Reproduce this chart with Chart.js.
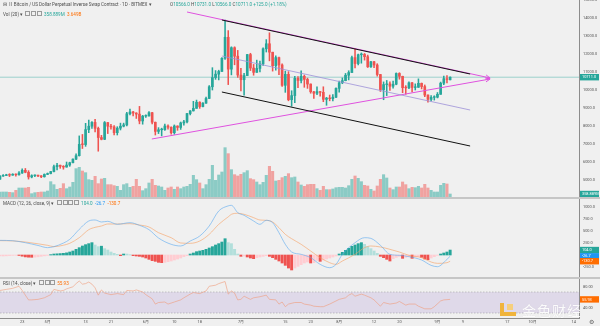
<!DOCTYPE html>
<html>
<head>
<meta charset="utf-8">
<script src="https://cdn.jsdelivr.net/npm/chart.js@4.4.1/dist/chart.umd.min.js"></script>
<style>
  body { margin: 0; background: #f0f0f0; }
  #wrap { position: relative; width: 600px; height: 326px; overflow: hidden; background: #f0f0f0;
          font-family: Roboto, "Noto Sans", "Noto Sans CJK SC", sans-serif; }
  canvas { position: absolute; left: 0; }
  .leg { position: absolute; font-size: 4.6px; line-height: 6px; color: #4d4d4d; white-space: nowrap; }
  .ic { display: inline-block; width: 3px; height: 3px; border: 0.5px solid #9a9a9a; margin-right: 0.8px; vertical-align: -0.5px; }
  .sep { position: absolute; left: 0; width: 600px; background: #c6c6c6; }
  .wm { position: absolute; left: 522px; top: 300px; font-size: 14px; letter-spacing: 1px; color: rgba(255,255,255,0.92);
        font-family: "Noto Sans CJK SC", sans-serif; text-shadow: 0 0 1px rgba(0,0,0,0.12); }
</style>
</head>
<body>
<div id="wrap">
  <canvas id="price" width="600" height="197" style="top:0"></canvas>
  <canvas id="macd" width="600" height="78" style="top:199px"></canvas>
  <canvas id="rsi" width="600" height="47" style="top:279px"></canvas>
  <div class="sep" style="top:197px;height:1.5px"></div>
  <div class="sep" style="top:277px;height:1.5px"></div>

  <div class="leg" style="left:3px;top:1.5px">⊟ Ⅱ Bitcoin / US Dollar Perpetual Inverse Swap Contract · 1D · BITMEX ▾</div>
  <div class="leg" id="ohlc" style="left:170px;top:1.5px"></div>
  <div class="leg" id="volLeg" style="left:3px;top:10.5px"></div>
  <div class="leg" id="macdLeg" style="left:3px;top:200px"></div>
  <div class="leg" id="rsiLeg" style="left:3px;top:280px"></div>

  <div style="position:absolute;left:500px;top:303px;width:4px;height:13px;background:#f0b43c"></div>
  <div style="position:absolute;left:500px;top:312px;width:16px;height:4px;background:#f0b43c"></div>
  <div style="position:absolute;left:507px;top:304px;width:6px;height:6px;background:#f6cf7c"></div>
  <div class="wm">金色财经</div>
  <div class="leg" style="left:589px;top:318.5px;font-size:5.5px;color:#666">⚙</div>
</div>
<script>
// daily candles, day 0 = 2019-04-16, last = 2019-09-05
const opens = [
  5040, 5220, 5250, 5290, 5270, 5320, 5290, 5390, 5540, 5430, 5170, 5240, 5250, 5230, 5180,
  5310, 5360, 5470, 5740, 5820, 5760, 5720, 5830, 5960, 6160, 6350, 6980, 6970, 7800, 7990, 8200,
  7870, 7360, 7260, 8190, 7990, 7950, 7630, 7880, 7990, 8060, 8680, 8780, 8720, 8660, 8280,
  8550, 8560, 8740, 8210, 7700, 7790, 7800, 8000, 7930, 7630, 8000, 7920, 8170, 8230, 8690,
  8840, 8980, 9320, 9080, 9270, 9530, 10180, 10690, 10880, 11030, 11760, 12930, 11160, 12350, 11880,
  10830, 10570, 10800, 11970, 11220, 10980, 11200, 11450, 12290, 12570, 12100, 11350, 11800, 11390, 10260,
  10870, 9460, 9690, 10650, 10530, 10760, 10590, 10330, 9900, 9820, 9910, 9870, 9480, 9550, 9520, 9600,
  10090, 10400, 10520, 10820, 10970, 11800, 11470, 11960, 11980, 11850, 11290, 11570, 11390, 10860, 10020,
  10300, 10340, 10210, 10320, 10920, 10760, 10130, 10120, 10400, 10140, 10150, 10370, 10190, 9720, 9480, 9590,
  9600, 9760, 10380, 10630, 10566
];
const highs = [
  5250, 5300, 5320, 5350, 5350, 5340, 5470, 5620, 5640, 5520, 5290, 5290, 5270, 5250, 5340,
  5390, 5480, 5830, 5920, 5830, 5800, 6000, 5990, 6180, 6450, 7450, 7530, 8150, 8330, 8250, 8370,
  7940, 7480, 8250, 8200, 8100, 8030, 7960, 8160, 8160, 8760, 8940, 8810, 8740, 9090, 8590,
  8620, 8800, 8760, 8220, 7910, 7880, 8110, 8060, 7950, 8060, 8010, 8220, 8320, 8700, 8860,
  9370, 9440, 9350, 9300, 9600, 10240, 11240, 11080, 11100, 11800, 13880, 13300, 12400, 12400, 12200,
  11200, 10930, 11980, 12040, 11420, 11660, 11600, 12340, 12800, 13180, 12100, 11900, 11830, 11450, 11050,
  11020, 9960, 10760, 10750, 11070, 10830, 10660, 10340, 9920, 10170, 9930, 10180, 9590, 9720, 9750, 10120,
  10490, 10670, 10920, 11070, 11890, 12300, 12000, 12060, 12030, 11940, 11590, 11590, 11460, 10870, 10450,
  10530, 10460, 10500, 10950, 10960, 10770, 10240, 10460, 10430, 10340, 10620, 10390, 10280, 9730, 9690, 9680,
  9860, 10440, 10780, 10800, 10731
];
const lows = [
  5030, 5200, 5240, 5190, 5260, 5220, 5270, 5370, 5400, 5050, 5120, 5190, 5180, 5130, 5160,
  5300, 5340, 5450, 5560, 5650, 5600, 5710, 5760, 5950, 6130, 6330, 6750, 6870, 7630, 7860, 7670,
  6600, 7230, 7240, 7580, 7820, 7500, 7500, 7780, 7950, 8000, 8620, 8560, 8420, 8120, 8100,
  8480, 8540, 8120, 7500, 7580, 7450, 7750, 7820, 7550, 7540, 7760, 7810, 8050, 8170, 8610,
  8830, 8980, 8980, 9060, 9250, 9520, 10000, 10590, 10560, 11030, 11700, 10300, 10840, 11400, 10700,
  9950, 9710, 10800, 11080, 10820, 10980, 11000, 11360, 12110, 11620, 11050, 11100, 10850, 10200, 9870,
  9400, 9100, 9300, 10130, 10400, 10150, 10090, 9820, 9530, 9740, 9660, 9350, 9150, 9400, 9400, 9580,
  9880, 10350, 10510, 10560, 10970, 11220, 11400, 11490, 11660, 11250, 11250, 11240, 10770, 9920, 9460,
  9690, 9980, 10100, 10290, 10600, 9850, 9760, 10070, 9900, 10000, 10140, 10060, 9630, 9330, 9400, 9440,
  9560, 9760, 10300, 10400, 10566
];
const closes = [
  5220, 5250, 5290, 5270, 5320, 5290, 5390, 5540, 5430, 5170, 5240, 5250, 5230, 5180, 5310,
  5360, 5470, 5740, 5820, 5760, 5720, 5830, 5960, 6160, 6350, 6980, 6970, 7800, 7990, 8200, 7870,
  7360, 7260, 8190, 7990, 7950, 7630, 7880, 7990, 8060, 8680, 8780, 8720, 8660, 8280, 8550,
  8560, 8740, 8210, 7700, 7790, 7800, 8000, 7930, 7630, 8000, 7920, 8170, 8230, 8690, 8840,
  8980, 9320, 9080, 9270, 9530, 10180, 10690, 10880, 11030, 11760, 12930, 11160, 12350, 11880, 10830,
  10570, 10800, 11970, 11220, 10980, 11200, 11450, 12290, 12570, 12100, 11350, 11800, 11390, 10260, 10870,
  9460, 9690, 10650, 10530, 10760, 10590, 10330, 9900, 9820, 9910, 9870, 9480, 9550, 9520, 9600, 10090,
  10400, 10520, 10820, 10970, 11800, 11470, 11960, 11980, 11850, 11290, 11570, 11390, 10860, 10020, 10300,
  10340, 10210, 10320, 10920, 10760, 10130, 10120, 10400, 10140, 10150, 10370, 10190, 9720, 9480, 9590, 9600,
  9760, 10380, 10630, 10586, 10711
];
// volume in millions
const volumes = [
  600, 600, 600, 560, 520, 800, 1080, 1080, 1080, 1160,
  400, 520, 560, 600, 600, 720, 1840, 1480, 920, 1040,
  1600, 1000, 1200, 1760, 3400, 3560, 3120, 2920, 2080, 2000,
  2480, 1600, 2160, 2240, 1480, 1480, 1360, 1280, 800, 1480,
  1600, 1160, 1280, 2120, 1280, 760, 1000, 1680, 2120, 1400,
  1320, 1200, 800, 1080, 1200, 920, 1200, 1000, 1200, 1280,
  1520, 2600, 2080, 1680, 1000, 1480, 2120, 3800, 2000, 2640,
  3000, 5920, 5200, 3280, 2680, 2520, 2720, 2920, 3160, 2200,
  2080, 1800, 1480, 1760, 2600, 3680, 3080, 1920, 2000, 2320,
  2480, 2800, 2320, 2400, 1800, 1440, 1280, 1480, 1520, 1520,
  1000, 800, 1280, 880, 880, 960, 1120, 1160, 1160, 1080,
  1360, 2120, 2520, 2240, 1840, 1400, 1320, 920, 720, 1320,
  2120, 2680, 2280, 1080, 880, 1200, 1200, 1800, 1480, 1000,
  1160, 1120, 1280, 1080, 1520, 1080, 800, 600, 600, 1400,
  1640, 1560, 358.889
];
const volMaText = '3.649B';

// MACD (12, 26, close, 9)
const histValues = [
  -21, -21, -18, -12, -8, -6, -10, -25, -40, -46, -48, -44, -38, -28, -18, -8, 8,
  21, 25, 30, 35, 45, 63, 84, 119, 154, 189, 217, 238, 259,
  210, 175, 185, 133, 105, 63, 35, 14, -14, 21, 21, 7, -14, -21, -28, -42, -63, -91, -119, -133,
  -154, -161, -154, -140, -126, -105, -84, -63, -35, -14, 21, 42, 70,
  84, 98, 119, 147, 175, 210, 238, 272, 342, 259, 238, 119, 21,
  -28, -21, -42, -63, -77, -56, -42, -28, -14, -28, -56, -91, -126, -168, -217, -273, -314, -273, -238, -203,
  -168, -147, -168, -161, -112, -133, -105, -84, -63, -42, -21,
  21, 56, 98, 140, 182, 210, 238, 259, 224, 175, 133, 84, 35, -28, -56, -91, -126, -77, -49, -28,
  -70, -49, -35, -70, -42, -35, -49, -84, -98, -63, -35, -7, 21, 42, 63, 104.0
];
const macdDays = [0, 4, 8, 12, 15, 17, 20, 22, 25, 28, 30, 32, 34, 37, 41, 44, 47, 50, 54, 57, 60, 63, 66, 69,
  72, 73, 75, 77, 80, 82, 84, 86, 88, 90, 92, 95, 98, 101, 104, 106, 108, 112, 115, 117, 120, 123, 126, 129,
  133, 136, 138, 141, 142];
const macdLine = [307, 300, 258, 200, 154, 175, 250, 328, 538, 713, 734, 692, 706, 643, 678, 622, 531, 357, 224, 189, 293, 398, 608, 923,
  1030, 1041, 888, 832, 713, 643, 727, 678, 468, 224, 63, 14, -56, -196, -266, -196, 14, 258, 363, 349, 203, 14, -7, -35,
  -105, -217, -245, -91, -26.7];
const signalLine = [301, 295, 272, 235, 203, 175, 205, 245, 363, 531, 580, 608, 650, 650, 657, 629, 587, 468, 363, 252, 245, 293, 433, 643,
  800, 853, 874, 853, 783, 734, 727, 692, 573, 433, 342, 224, 84, -56, -161, -196, -126, 14, 154, 189, 168, 119, 63, -7,
  -56, -147, -175, -161, -130.7];

// RSI (14, close)
const rsiDays = [0, 2, 4, 6, 7, 9, 10, 12, 14, 16, 17, 19, 20, 21, 23, 24, 25, 26, 27, 28, 29, 30, 31, 32, 33, 35, 37, 39,
  40, 42, 43, 45, 46, 48, 49, 50, 52, 53, 55, 57, 58, 60, 61, 63, 65, 66, 68, 69, 71, 72, 73, 74, 75, 76, 77, 79, 80,
  82, 84, 85, 87, 88, 89, 90, 91, 93, 95, 96, 98, 99, 101, 102, 104, 106, 107, 109, 110, 111, 112, 114, 115, 117, 118,
  120, 121, 123, 125, 126, 128, 129, 131, 132, 134, 136, 137, 139, 140, 142];
const rsiValues = [73, 75, 77, 81, 73, 55, 55, 56, 59, 65, 75, 72, 73, 76, 80, 86, 91, 85, 86, 89, 85, 78, 64, 74, 68, 65, 67, 65,
  73, 72, 74, 70, 65, 57, 47, 50, 51, 47, 51, 55, 59, 66, 69, 67, 72, 81, 83, 86, 90, 66, 72, 68, 55, 56, 62, 56, 59,
  61, 64, 56, 55, 47, 51, 42, 47, 50, 50, 47, 45, 43, 42, 42, 47, 53, 56, 59, 64, 67, 62, 66, 64, 59, 55,
  43, 50, 47, 49, 52, 45, 47, 47, 43, 38, 38, 42, 53, 55, 55.93];
const rsiBand = [70, 30];

// drawings: [day, price]
const trendTop = [[59.0, 14333], [154.6, 10667]];
const trendBottom = [[47.9, 7278], [154.6, 10611]];
const channelTop = [[70.0, 13889], [148.3, 10889]];
const channelMid = [[70.0, 11889], [148.3, 8889]];
const channelBottom = [[70.0, 9889], [148.3, 6889]];

// axes
const priceTicks = [15000, 14000, 13000, 12000, 11000, 10000, 9000, 8000, 7000, 6000, 5000];
const macdTicks = [1000, 750, 500, 250, 0, -250];
const rsiTicks = [80, 40];
const timeTickDays = [7, 15, 27, 35, 46, 55, 63, 76, 90, 98, 107, 118, 126, 138, 146, 160, 168, 181];
const timeTickLabels = ['23', '5月', '13', '21', '6月', '10', '18', '7月', '15', '23', '8月', '12', '20', '9月', '9', '17', '10月', '14'];

const UP = '#26a69a', DOWN = '#ef5350';
const BLUE = '#2196f3', ORANGE = '#ff6d00';
const BLUE_LINE = '#5aaaf0', ORANGE_LINE = '#f7a062';
const X_MIN = 0, X_MAX = 182.65;
const FONT = 'Roboto, "Noto Sans CJK SC", sans-serif';
const tickFont = { family: FONT, size: 3.9 };

Chart.defaults.font.family = FONT;

const n = closes.length;
const idx = closes.map((_, i) => i);
const isUp = idx.map(i => closes[i] >= opens[i]);
const pts = arr => arr.map(p => ({ x: p[0], y: p[1] }));

function yAxis(min, max, ticks, fmt) {
  return {
    position: 'right', min, max,
    afterFit: s => { s.width = 21; s.paddingTop = 0; s.paddingBottom = 0; },
    afterBuildTicks: s => { s.ticks = ticks.map(v => ({ value: v })); },
    grid: { display: false, drawTicks: false },
    border: { display: true, color: '#8c8c8c', width: 1 },
    ticks: { padding: 4, color: '#555', font: tickFont, autoSkip: false, callback: fmt }
  };
}
const hiddenX = { type: 'linear', min: X_MIN, max: X_MAX, offset: false, display: false };

function box(chart, axis, value, text, bg) {
  const ctx = chart.ctx;
  const y = chart.scales[axis].getPixelForValue(value);
  const x = chart.chartArea.right + 1;
  ctx.save();
  ctx.fillStyle = bg;
  ctx.fillRect(x, y - 3.2, 19, 6.4);
  ctx.fillStyle = '#fff';
  ctx.font = '3.9px ' + FONT;
  ctx.textBaseline = 'middle';
  ctx.fillText(text, x + 2, y + 0.2);
  ctx.restore();
}

const baseOptions = {
  responsive: false, animation: false, events: [],
  layout: { padding: 0 },
  plugins: { legend: { display: false }, tooltip: { enabled: false } }
};

// price + volume
new Chart(document.getElementById('price'), {
  type: 'bar',
  data: {
    datasets: [
      { type: 'line', data: pts(trendTop), borderColor: '#df52df', borderWidth: 1, pointRadius: 0, arrow: true, order: 1 },
      { type: 'line', data: pts(trendBottom), borderColor: '#df52df', borderWidth: 1, pointRadius: 0, arrow: true, order: 1 },
      { type: 'line', data: pts(channelTop), borderColor: '#111', borderWidth: 1, pointRadius: 0, order: 0 },
      { type: 'line', data: pts(channelMid), borderColor: '#9d90d8', borderWidth: 0.8, pointRadius: 0, order: 0 },
      { type: 'line', data: pts(channelBottom), borderColor: '#111', borderWidth: 1, pointRadius: 0, order: 0 },
      { data: idx.map(i => ({ x: i, y: [opens[i], closes[i]] })), backgroundColor: idx.map(i => isUp[i] ? UP : DOWN),
        barThickness: 2, minBarLength: 0.7, grouped: false, order: 4 },
      { data: idx.map(i => ({ x: i, y: [lows[i], highs[i]] })), backgroundColor: idx.map(i => isUp[i] ? UP : DOWN),
        barThickness: 0.9, grouped: false, order: 5 },
      { data: idx.map(i => ({ x: i, y: volumes[i] })), yAxisID: 'yv',
        backgroundColor: idx.map(i => isUp[i] ? 'rgba(38,166,154,0.5)' : 'rgba(239,83,80,0.5)'),
        barThickness: 2.4, grouped: false, order: 10 }
    ]
  },
  options: {
    ...baseOptions,
    scales: {
      x: hiddenX,
      y: yAxis(4056, 15000, priceTicks, v => v.toFixed(1)),
      yv: { display: false, min: 0, max: 23640 }
    }
  },
  plugins: [{
    id: 'priceExtras',
    beforeDatasetsDraw(chart) {
      const ctx = chart.ctx, a = chart.chartArea;
      const y = chart.scales.y.getPixelForValue(closes[n - 1]);
      ctx.save();
      ctx.strokeStyle = 'rgba(38,166,154,0.6)';
      ctx.lineWidth = 0.7;
      ctx.beginPath(); ctx.moveTo(a.left, y); ctx.lineTo(a.right, y); ctx.stroke();
      ctx.restore();
    },
    afterDatasetsDraw(chart) {
      const ctx = chart.ctx;
      chart.data.datasets.forEach((ds, i) => {
        if (!ds.arrow) return;
        const el = chart.getDatasetMeta(i).data;
        const a = el[0], b = el[el.length - 1];
        const ang = Math.atan2(b.y - a.y, b.x - a.x);
        ctx.save();
        ctx.strokeStyle = ds.borderColor;
        ctx.lineWidth = 1;
        ctx.beginPath();
        [ang + 2.7, ang - 2.7].forEach(t => {
          ctx.moveTo(b.x, b.y);
          ctx.lineTo(b.x + 5 * Math.cos(t), b.y + 5 * Math.sin(t));
        });
        ctx.stroke();
        ctx.restore();
      });
    },
    afterDraw(chart) {
      box(chart, 'y', closes[n - 1], closes[n - 1].toFixed(1), UP);
      box(chart, 'yv', volumes[n - 1], volumes[n - 1].toFixed(3) + 'M', UP);
    }
  }]
});

// MACD
const histColors = histValues.map((h, i) => {
  const prev = i > 0 ? histValues[i - 1] : h;
  if (h >= 0) return h > prev ? '#26a69a' : '#b2dfdb';
  return h < prev ? '#ef5350' : '#ffcdd2';
});
new Chart(document.getElementById('macd'), {
  type: 'bar',
  data: {
    datasets: [
      { type: 'line', data: macdDays.map((d, k) => ({ x: d, y: macdLine[k] })), borderColor: BLUE_LINE, borderWidth: 0.6,
        pointRadius: 0, cubicInterpolationMode: 'monotone', order: 1 },
      { type: 'line', data: macdDays.map((d, k) => ({ x: d, y: signalLine[k] })), borderColor: ORANGE_LINE, borderWidth: 0.6,
        pointRadius: 0, cubicInterpolationMode: 'monotone', order: 2 },
      { data: idx.map(i => ({ x: i, y: histValues[i] })), backgroundColor: histColors, barThickness: 2.3, grouped: false, order: 3 }
    ]
  },
  options: {
    ...baseOptions,
    scales: { x: hiddenX, y: yAxis(-461, 1174, macdTicks, v => v.toFixed(1)) }
  },
  plugins: [{
    id: 'macdBoxes',
    afterDraw(chart) {
      box(chart, 'y', histValues[n - 1], histValues[n - 1].toFixed(1), UP);
      box(chart, 'y', macdLine[macdLine.length - 1], macdLine[macdLine.length - 1].toFixed(1), BLUE);
      box(chart, 'y', signalLine[signalLine.length - 1], signalLine[signalLine.length - 1].toFixed(1), ORANGE);
    }
  }]
});

// RSI + time axis
const rsiLast = rsiValues[rsiValues.length - 1];
new Chart(document.getElementById('rsi'), {
  type: 'line',
  data: {
    datasets: [
      { data: rsiDays.map((d, k) => ({ x: d, y: rsiValues[k] })), borderColor: '#f09a78', borderWidth: 0.6, pointRadius: 0, order: 1 },
      { data: [{ x: X_MIN, y: rsiBand[0] }, { x: X_MAX, y: rsiBand[0] }], borderColor: '#a3a3a3', borderWidth: 0.6,
        borderDash: [1.5, 1.5], pointRadius: 0, fill: '+1', backgroundColor: 'rgba(126,87,194,0.15)', order: 5 },
      { data: [{ x: X_MIN, y: rsiBand[1] }, { x: X_MAX, y: rsiBand[1] }], borderColor: '#a3a3a3', borderWidth: 0.6,
        borderDash: [1.5, 1.5], pointRadius: 0, fill: false, order: 5 }
    ]
  },
  options: {
    ...baseOptions,
    scales: {
      x: {
        type: 'linear', min: X_MIN, max: X_MAX, offset: false,
        afterFit: s => { s.height = 8; s.paddingLeft = 0; s.paddingRight = 0; },
        afterBuildTicks: s => { s.ticks = timeTickDays.map(v => ({ value: v })); },
        grid: { display: false, drawTicks: false },
        border: { display: true, color: '#8c8c8c', width: 1 },
        ticks: { autoSkip: false, maxRotation: 0, padding: 1.5, color: '#555', font: tickFont,
                 callback: (v, i) => timeTickLabels[i] }
      },
      y: yAxis(20.5, 94.8, rsiTicks, v => v.toFixed(2))
    }
  },
  plugins: [{
    id: 'rsiBox',
    afterDraw(chart) { box(chart, 'y', rsiLast, rsiLast.toFixed(2), ORANGE); }
  }]
});

// legends
const icons = k => '<span class="ic"></span>'.repeat(k);
const t = (s, c) => `<span style="color:${c}">${s}</span>`;
const chg = closes[n - 1] - closes[n - 2];
const pct = chg / closes[n - 2] * 100;
const sgn = v => (v >= 0 ? '+' : '');
document.getElementById('ohlc').innerHTML =
  `O${t(opens[n - 1].toFixed(1), UP)} H${t(highs[n - 1].toFixed(1), UP)} L${t(lows[n - 1].toFixed(1), UP)} ` +
  `C${t(closes[n - 1].toFixed(1), UP)} ${t(sgn(chg) + chg.toFixed(1) + ' (' + sgn(pct) + pct.toFixed(2) + '%)', UP)}`;
document.getElementById('volLeg').innerHTML =
  `Vol (20) ▾ &nbsp;${icons(3)} ${t(volumes[n - 1].toFixed(3) + 'M', UP)} &nbsp;${t(volMaText, ORANGE)}`;
document.getElementById('macdLeg').innerHTML =
  `MACD (12, 26, close, 9) ▾ &nbsp;${icons(4)} ${t(histValues[n - 1].toFixed(1), UP)} &nbsp;` +
  `${t(macdLine[macdLine.length - 1].toFixed(1), BLUE)} &nbsp;${t(signalLine[signalLine.length - 1].toFixed(1), ORANGE)}`;
document.getElementById('rsiLeg').innerHTML =
  `RSI (14, close) ▾ &nbsp;${icons(3)} ${t(rsiLast.toFixed(2), ORANGE)}`;
</script>
</body>
</html>
